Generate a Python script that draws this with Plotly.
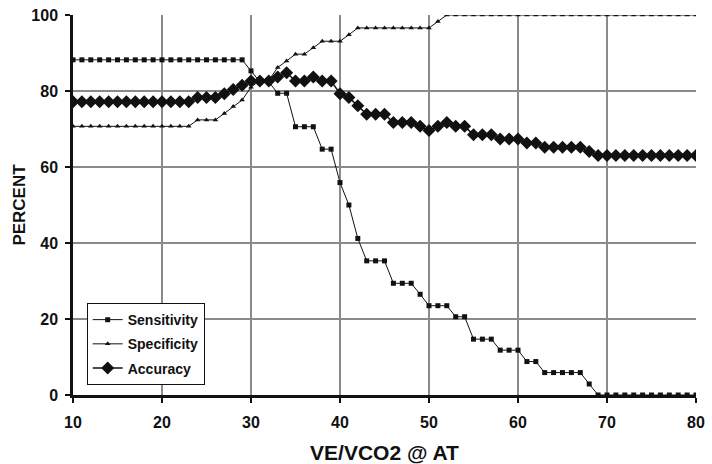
import plotly.graph_objects as go

x_values = list(range(10, 81))

sensitivity = [
    88.2, 88.2, 88.2, 88.2, 88.2, 88.2, 88.2, 88.2, 88.2, 88.2,   # 10-19
    88.2, 88.2, 88.2, 88.2, 88.2, 88.2, 88.2, 88.2, 88.2, 88.2,   # 20-29
    85.3, 82.4, 82.4, 79.4, 79.4, 70.6, 70.6, 70.6, 64.7, 64.7,   # 30-39
    55.9, 50.0, 41.2, 35.3, 35.3, 35.3, 29.4, 29.4, 29.4, 26.5,   # 40-49
    23.5, 23.5, 23.5, 20.6, 20.6, 14.7, 14.7, 14.7, 11.8, 11.8,   # 50-59
    11.8, 8.8, 8.8, 5.9, 5.9, 5.9, 5.9, 5.9, 2.9, 0.0,            # 60-69
    0.0, 0.0, 0.0, 0.0, 0.0, 0.0, 0.0, 0.0, 0.0, 0.0,             # 70-79
    0.0,                                                          # 80
]

specificity = [
    70.7, 70.7, 70.7, 70.7, 70.7, 70.7, 70.7, 70.7, 70.7, 70.7,   # 10-19
    70.7, 70.7, 70.7, 70.7, 72.4, 72.4, 72.4, 74.1, 75.9, 77.6,   # 20-29
    81.0, 82.8, 82.8, 86.2, 87.9, 89.7, 89.7, 91.4, 93.1, 93.1,   # 30-39
    93.1, 94.8, 96.6, 96.6, 96.6, 96.6, 96.6, 96.6, 96.6, 96.6,   # 40-49
    96.6, 98.3, 100, 100, 100, 100, 100, 100, 100, 100,           # 50-59
    100, 100, 100, 100, 100, 100, 100, 100, 100, 100,             # 60-69
    100, 100, 100, 100, 100, 100, 100, 100, 100, 100,             # 70-79
    100,                                                          # 80
]

accuracy = [
    77.2, 77.2, 77.2, 77.2, 77.2, 77.2, 77.2, 77.2, 77.2, 77.2,   # 10-19
    77.2, 77.2, 77.2, 77.2, 78.3, 78.3, 78.3, 79.3, 80.4, 81.5,   # 20-29
    82.6, 82.6, 82.6, 83.7, 84.8, 82.6, 82.6, 83.7, 82.6, 82.6,   # 30-39
    79.3, 78.3, 76.1, 73.9, 73.9, 73.9, 71.7, 71.7, 71.7, 70.7,   # 40-49
    69.6, 70.7, 71.7, 70.7, 70.7, 68.5, 68.5, 68.5, 67.4, 67.4,   # 50-59
    67.4, 66.3, 66.3, 65.2, 65.2, 65.2, 65.2, 65.2, 64.1, 63.0,   # 60-69
    63.0, 63.0, 63.0, 63.0, 63.0, 63.0, 63.0, 63.0, 63.0, 63.0,   # 70-79
    63.0,                                                         # 80
]

x_ticks = [10, 20, 30, 40, 50, 60, 70, 80]
y_ticks = [0, 20, 40, 60, 80, 100]

INK = "#111111"
FONT = "Liberation Sans, Arial, sans-serif"

fig = go.Figure()
fig.add_trace(go.Scatter(
    x=x_values, y=sensitivity, name="<b>Sensitivity</b>", mode="lines+markers",
    line=dict(color=INK, width=1),
    marker=dict(symbol="square", size=5, color=INK),
    legendgroup="a",
))
fig.add_trace(go.Scatter(
    x=x_values, y=specificity, name="<b>Specificity</b>", mode="lines+markers",
    line=dict(color=INK, width=1),
    marker=dict(symbol="triangle-up", size=5, color=INK),
    legendgroup="b",
))
fig.add_trace(go.Scatter(
    x=x_values, y=accuracy, name="<b>Accuracy</b>", mode="lines+markers",
    line=dict(color=INK, width=1.5),
    marker=dict(symbol="diamond", size=10, color=INK),
    legendgroup="c",
))

fig.update_layout(
    width=712, height=464,
    margin=dict(l=73, r=16, t=15, b=69, autoexpand=False),
    paper_bgcolor="white", plot_bgcolor="white",
    font=dict(family=FONT, color=INK, size=16),
    showlegend=True,
    legend=dict(
        x=0.022, y=0.242, xanchor="left", yanchor="top",
        bgcolor="white", bordercolor=INK, borderwidth=1,
        font=dict(family=FONT, size=14, color=INK),
        tracegroupgap=3, traceorder="grouped",
    ),
    xaxis=dict(
        range=[10, 80], tickvals=x_ticks, ticktext=[f"<b>{v}</b>" for v in x_ticks],
        showgrid=True, gridcolor="#8a8a8a", gridwidth=1.5,
        showline=True, linecolor=INK, linewidth=2.5,
        ticks="outside", ticklen=5, tickwidth=2, tickcolor=INK,
        ticklabelstandoff=6,
        zeroline=False, automargin=False,
        title=dict(text="<b>VE/VCO2 @ AT</b>", font=dict(size=21), standoff=16),
    ),
    yaxis=dict(
        range=[0, 100], tickvals=y_ticks, ticktext=[f"<b>{v}</b>" for v in y_ticks],
        showgrid=True, gridcolor="#8a8a8a", gridwidth=1.5,
        showline=True, linecolor=INK, linewidth=2.5,
        ticks="outside", ticklen=5, tickwidth=2, tickcolor=INK,
        ticklabelstandoff=4,
        zeroline=False, automargin=False,
        title=dict(text="<b>PERCENT</b>", font=dict(size=17), standoff=2),
    ),
)

fig.write_html(
    "out.html",
    config={"displayModeBar": False},
    post_script="document.body.style.margin='0';",
)
